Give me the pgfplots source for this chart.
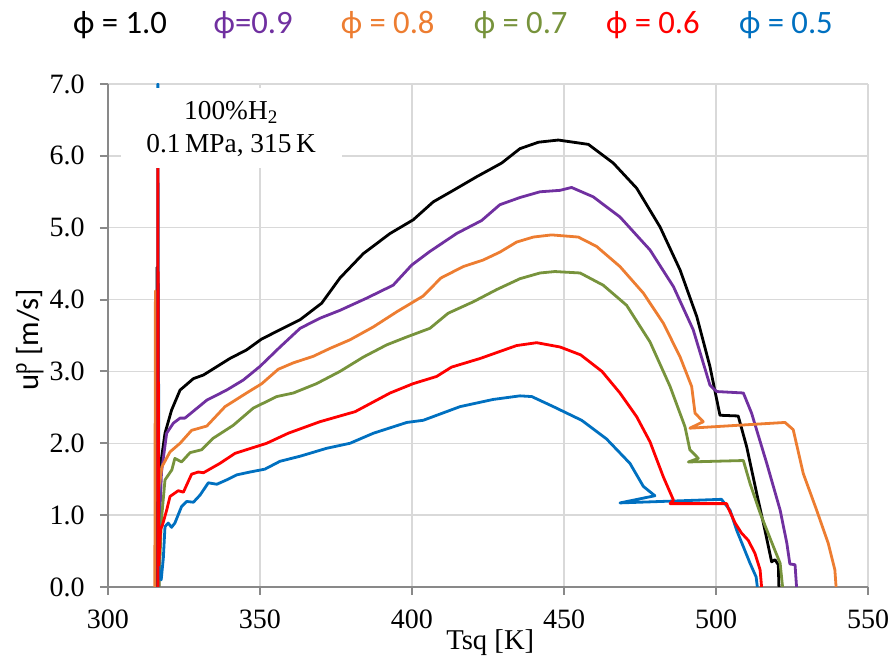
\documentclass[border=0pt]{standalone}
\usepackage{fontspec}
\setmainfont{Liberation Serif}
\newfontfamily\calibri{Carlito}
\usepackage{pgfplots}
\pgfplotsset{compat=1.18}

\definecolor{c10}{HTML}{000000}
\definecolor{c09}{HTML}{7030A0}
\definecolor{c08}{HTML}{ED7D31}
\definecolor{c07}{HTML}{77933C}
\definecolor{c06}{HTML}{FF0000}
\definecolor{c05}{HTML}{0070C0}
\definecolor{gridc}{HTML}{D9D9D9}
\definecolor{axc}{HTML}{898989}

\tikzset{legtxt/.style={anchor=base, text=#1, font=\calibri\fontsize{24.5}{28}\selectfont, inner sep=0pt}}

\begin{document}
\begin{tikzpicture}[x=0.75pt,y=0.75pt]
\begin{axis}[
  width=570pt, height=377.25pt,
  scale only axis,
  xmin=300, xmax=550, ymin=0, ymax=7,
  xtick={300,350,...,550},
  ytick={0,1,...,7},
  grid=major,
  grid style={gridc, line width=1.1pt},
  axis lines*=left,
  axis line style={axc, line width=1.5pt},
  tick style={axc, line width=1.5pt},
  tick align=outside,
  major tick length=6pt,
  /pgf/number format/assume math mode=true,
  tick label style={font=\fontsize{21}{24}\selectfont},
  yticklabel style={xshift=-8pt, /pgf/number format/fixed, /pgf/number format/fixed zerofill, /pgf/number format/precision=1},
  xticklabel style={yshift=-8pt, /pgf/number format/fixed},
  every axis plot/.append style={line width=2.1pt, mark=none, line join=round},
]
\addplot[c10] coordinates {(316.1,0) (316.1,4.45) (316.5,1.3) (317.3,1.7) (318.75,2.14) (320.9,2.46) (323.7,2.74) (328.1,2.90) (331.4,2.95) (340.1,3.18) (345.6,3.30) (350.5,3.45) (356.6,3.58) (363.2,3.72) (370.3,3.95) (376.3,4.30) (384,4.64) (392.8,4.92) (400.4,5.11) (407,5.36) (413.6,5.52) (421.3,5.71) (429.5,5.90) (435.5,6.10) (441.6,6.19) (448.1,6.22) (458,6.16) (466.2,5.90) (473.9,5.55) (481.6,5.01) (488.2,4.41) (493.7,3.76) (498,3.07) (501.3,2.39) (507.3,2.38) (510.1,1.95) (513.4,1.30) (516.1,0.79) (518.3,0.35) (519.4,0.38) (520.5,0.31) (520.7,0)};
\addplot[c09] coordinates {(316.8,0) (316.9,0.84) (317.6,1.6) (319.3,2.14) (321.5,2.28) (323.7,2.35) (325.3,2.35) (332.5,2.60) (339,2.74) (344.5,2.88) (350,3.07) (356.6,3.34) (363.2,3.60) (369.7,3.74) (376.3,3.85) (385.1,4.02) (393.8,4.20) (399.9,4.48) (405.9,4.67) (414.7,4.92) (422.9,5.10) (428.9,5.32) (435.5,5.42) (442.1,5.50) (448.7,5.52) (452.5,5.56) (459.6,5.43) (468.4,5.15) (478.3,4.69) (486,4.18) (492.5,3.58) (498,2.81) (500.2,2.72) (509,2.70) (511.7,2.42) (516.7,1.72) (521.1,1.07) (523.3,0.61) (524.3,0.32) (526,0.31) (526.5,0)};
\addplot[c08] coordinates {(315.4,0) (315.6,4.12) (316.3,1.2) (317.7,1.67) (320.4,1.88) (323.7,2.0) (327.5,2.18) (332.5,2.24) (338.5,2.51) (345.6,2.70) (350.6,2.83) (356,3.03) (361,3.12) (367.5,3.21) (373,3.32) (379.6,3.44) (387.3,3.62) (395,3.83) (403.7,4.05) (409.5,4.30) (416.9,4.46) (423.4,4.55) (428.9,4.66) (434.4,4.80) (439.9,4.87) (445.9,4.90) (454.7,4.87) (460.7,4.74) (468.4,4.46) (476.1,4.09) (482.7,3.67) (488.2,3.20) (492,2.79) (493.1,2.42) (495.8,2.30) (491.4,2.21) (522.7,2.29) (525.4,2.19) (528.7,1.58) (533.1,1.07) (536.9,0.61) (539.1,0.24) (539.5,0)};
\addplot[c07] coordinates {(316.8,0) (317.5,0.9) (318.75,1.49) (321,1.63) (322,1.79) (324.2,1.74) (327,1.87) (330.8,1.91) (334.6,2.07) (341.2,2.25) (347.8,2.49) (355.5,2.65) (361,2.70) (368.6,2.83) (376.3,3.0) (384,3.20) (391.7,3.37) (398.3,3.48) (405.9,3.60) (411.9,3.81) (420.2,3.97) (427.9,4.14) (435.5,4.29) (442.1,4.37) (447,4.39) (455.3,4.37) (462.9,4.20) (470.6,3.92) (478.3,3.41) (484.9,2.79) (489.8,2.23) (491.4,1.91) (494.2,1.79) (490.9,1.74) (509,1.76) (511.2,1.44) (514.5,1.03) (518.9,0.56) (521.1,0.33) (521.9,0)};
\addplot[c05] coordinates {(316.4,0) (316.4,7.0) (316.8,0.2) (317.5,0.1) (318.2,0.40) (318.75,0.84) (319.8,0.89) (320.9,0.83) (322,0.89) (324.2,1.12) (325.9,1.19) (328.1,1.18) (330.3,1.28) (333,1.45) (335.8,1.43) (339,1.49) (342.3,1.56) (346.7,1.60) (351.6,1.64) (356.6,1.75) (363.2,1.82) (371.9,1.93) (379.6,2.0) (387.3,2.14) (398.3,2.29) (403.7,2.32) (415.8,2.51) (426.7,2.61) (435.5,2.66) (439.4,2.65) (446.5,2.51) (455.8,2.32) (464,2.06) (471.7,1.72) (476.1,1.40) (479.9,1.27) (468.4,1.17) (501.8,1.22) (504.6,1.07) (506.8,0.79) (509,0.56) (511.2,0.33) (513.2,0.14) (513.6,0)};
\addplot[c06] coordinates {(316.4,0) (316.4,5.9) (316.7,0.3) (317.3,0.8) (317.9,0.86) (319.3,1.07) (320.4,1.26) (323.1,1.34) (324.8,1.32) (327.5,1.57) (329.7,1.60) (331.4,1.59) (336.8,1.72) (341.8,1.86) (352.2,2.0) (359.3,2.14) (369.7,2.30) (381.3,2.44) (392.8,2.70) (400.4,2.83) (408.1,2.93) (413,3.06) (422.4,3.18) (434.4,3.36) (441,3.40) (448.7,3.34) (455.5,3.23) (462.5,3.0) (468.4,2.70) (473.9,2.37) (478.3,2.02) (482.7,1.53) (486,1.21) (484.9,1.16) (503.5,1.16) (504,1.10) (506.3,0.89) (508.4,0.75) (510.6,0.65) (512.8,0.47) (514.5,0.24) (515,0)};

% annotation box
\fill[white] (axis cs:304.3,5.83) rectangle (axis cs:377,6.94);
\node[align=center, font=\fontsize{20.5}{25}\selectfont] at (axis cs:340.5,6.37)
  {100\%H\textsubscript{2}\\0.1\,MPa, 315\,K};

% anchor points for text outside the plot area
\coordinate (l1) at (rel axis cs:0.0158,1);
\coordinate (l2) at (rel axis cs:0.191,1);
\coordinate (l3) at (rel axis cs:0.368,1);
\coordinate (l4) at (rel axis cs:0.543,1);
\coordinate (l5) at (rel axis cs:0.717,1);
\coordinate (l6) at (rel axis cs:0.892,1);
\coordinate (ylab) at (rel axis cs:0,0.491);
\coordinate (xlab) at (rel axis cs:0.503,0);
\end{axis}

% legend (coloured text only)
\node[legtxt=c10] at ([yshift=38pt]l1) {ϕ = 1.0};
\node[legtxt=c09] at ([yshift=38pt]l2) {ϕ=0.9};
\node[legtxt=c08] at ([yshift=38pt]l3) {ϕ = 0.8};
\node[legtxt=c07] at ([yshift=38pt]l4) {ϕ = 0.7};
\node[legtxt=c06] at ([yshift=38pt]l5) {ϕ = 0.6};
\node[legtxt=c05] at ([yshift=38pt]l6) {ϕ = 0.5};

% axis labels
\node[rotate=90, anchor=center, font=\calibri\fontsize{23}{26}\selectfont]
  at ([xshift=-58.5pt]ylab) {u\rlap{\textsubscript{l}}\textsuperscript{p} [m/s]};
\node[anchor=base, font=\fontsize{21.5}{24}\selectfont, inner sep=0pt]
  at ([yshift=-47.25pt]xlab) {Tsq [K]};

\pgfresetboundingbox
\useasboundingbox ([xshift=-81pt, yshift=-54.75pt]current axis.south west) rectangle ([xshift=16.5pt, yshift=63pt]current axis.north east);
\end{tikzpicture}
\end{document}
